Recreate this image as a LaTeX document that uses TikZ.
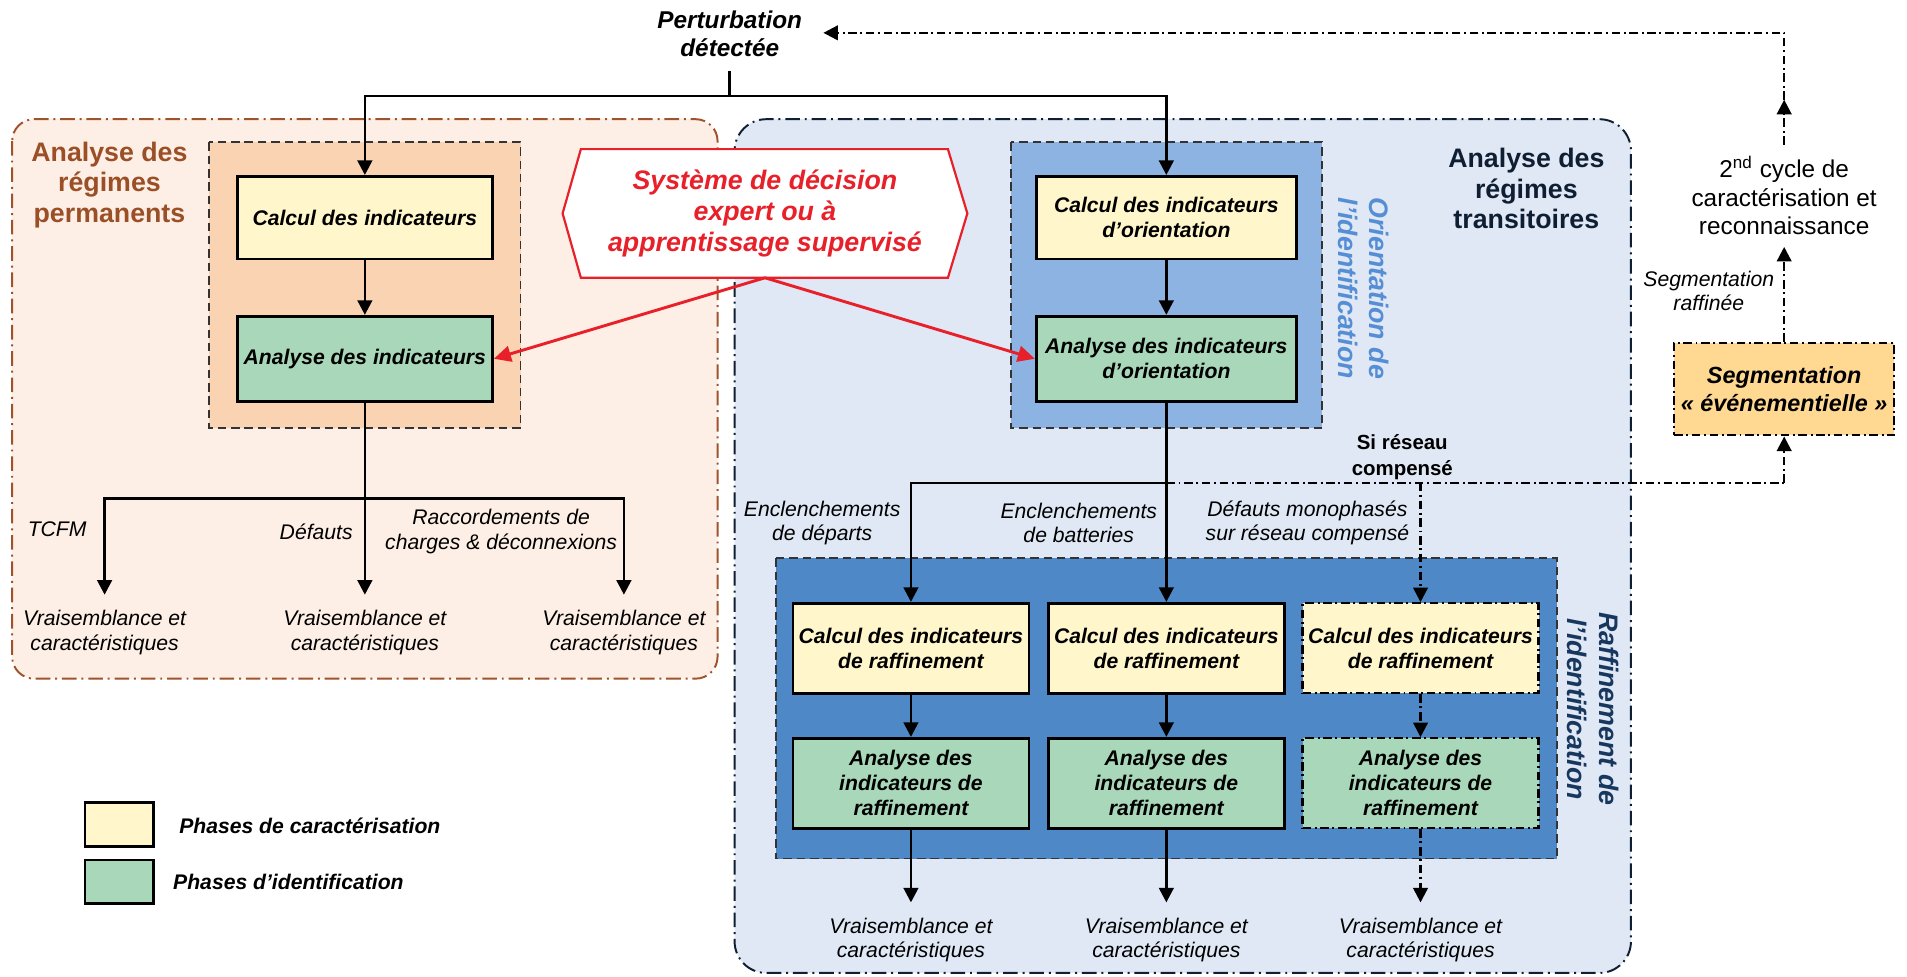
\documentclass[tikz,border=0pt]{standalone}
\usepackage{fontspec}
\setmainfont{Liberation Sans}
\usetikzlibrary{arrows.meta,calc}
\definecolor{cyel}{HTML}{FFF7CB}
\definecolor{cgrn}{HTML}{A8D8B9}
\definecolor{cpeachL}{HTML}{FDEFE5}
\definecolor{cpeach}{HTML}{F9D3B2}
\definecolor{cblueL}{HTML}{DFE8F4}
\definecolor{corient}{HTML}{8DB3E2}
\definecolor{craff}{HTML}{4F88C6}
\definecolor{cbrown}{HTML}{9A4F26}
\definecolor{cbrownB}{HTML}{A0522D}
\definecolor{cnavy}{HTML}{0F1E33}
\definecolor{craftext}{HTML}{17375E}
\definecolor{corientext}{HTML}{558ED5}
\definecolor{cred}{HTML}{E8202A}
\definecolor{cseg}{HTML}{FFD991}
\tikzset{
 lbl/.style={align=center, inner sep=0pt, font=\fontsize{8.7}{10}\selectfont\itshape},
 box/.style={draw=black, line width=1.1pt, align=center, inner sep=0pt, font=\fontsize{8.7}{10.2}\selectfont\bfseries\itshape},
 ybox/.style={box, fill=cyel},
 gbox/.style={box, fill=cgrn},
 ddbox/.style={line width=0.9pt, dash pattern=on 3.5pt off 1.5pt on 0.8pt off 1.5pt},
 arr/.style={line width=1.1pt, -{Triangle[length=6pt,width=6pt]}},
 ln/.style={line width=1.1pt},
 dd/.style={line width=1pt, dash pattern=on 3.5pt off 1.5pt on 0.8pt off 1.5pt},
 ddarr/.style={dd, -{Triangle[length=6pt,width=6pt]}},
 redarr/.style={draw=cred, line width=1.2pt, -{Triangle[length=7pt,width=6.5pt]}},
 innerd/.style={draw=black!80, line width=0.7pt, dash pattern=on 3.5pt off 2pt},
 region/.style={line width=0.8pt, dash pattern=on 6pt off 2pt on 0.8pt off 2pt},
 title/.style={align=center, inner sep=0pt, font=\fontsize{11}{12.6}\selectfont\bfseries},
 vtitle/.style={align=center, inner sep=0pt, rotate=-90, font=\fontsize{11}{13}\selectfont\bfseries\itshape},
}
\begin{document}
\begin{tikzpicture}[x=0.5pt,y=-0.5pt]
\useasboundingbox (0,0) rectangle (1568,803);
% regions
\filldraw[region, draw=cbrownB, fill=cpeachL, rounded corners=9pt] (10,98) rectangle (590,558);
\filldraw[region, draw=cnavy, fill=cblueL, rounded corners=13pt] (604,98) rectangle (1341,800);
\filldraw[innerd, fill=cpeach] (172,117) rectangle (428,352);
\filldraw[innerd, fill=corient] (831,117) rectangle (1087,352);
\filldraw[innerd, fill=craff] (638,459) rectangle (1280,706);
% titles
\node[title, text=cbrown] (titP) at (90,152) {Analyse des\\régimes\\permanents};
\node[title, text=cnavy] (titT) at (1255,155) {Analyse des\\régimes\\transitoires};
\node[vtitle, text=corientext] (vO) at (1121,237) {Orientation de\\l’identification};
\node[vtitle, text=craftext] (vR) at (1310,583) {Raffinement de\\l’identification};
% boxes
\node[ybox, minimum width=105pt, minimum height=34pt] (calcP) at (300,179) {Calcul des indicateurs};
\node[gbox, minimum width=105pt, minimum height=35pt] (anaP) at (300,295) {Analyse des indicateurs};
\node[ybox, minimum width=107pt, minimum height=34pt] (calcO) at (959,179) {Calcul des indicateurs\\d’orientation};
\node[gbox, minimum width=107pt, minimum height=35pt] (anaO) at (959,295) {Analyse des indicateurs\\d’orientation};
\node[ybox, minimum width=97pt, minimum height=37pt] (calcR1) at (749,533) {Calcul des indicateurs\\de raffinement};
\node[ybox, minimum width=97pt, minimum height=37pt] (calcR2) at (959,533) {Calcul des indicateurs\\de raffinement};
\node[ybox, ddbox, minimum width=97pt, minimum height=37pt] (calcR3) at (1168,533) {Calcul des indicateurs\\de raffinement};
\node[gbox, minimum width=97pt, minimum height=37pt] (anaR1) at (749,644) {Analyse des\\indicateurs de\\raffinement};
\node[gbox, minimum width=97pt, minimum height=37pt] (anaR2) at (959,644) {Analyse des\\indicateurs de\\raffinement};
\node[gbox, ddbox, minimum width=97pt, minimum height=37pt] (anaR3) at (1168,644) {Analyse des\\indicateurs de\\raffinement};
\node[box, ddbox, fill=cseg, minimum width=90.5pt, minimum height=38pt, font=\fontsize{9.6}{11.5}\selectfont\bfseries\itshape] (seg) at (1467,320) {Segmentation\\«~événementielle~»};
% perturbation
\node[align=center, inner sep=0pt, font=\fontsize{10}{11.5}\selectfont\bfseries\itshape] (pert) at (600,28) {Perturbation\\détectée};
\coordinate (pstub) at (600,58);
\coordinate (pj) at (600,79);
\draw[ln] (pstub) -- (pj);
\draw[arr] (pj) -| (calcP.north);
\draw[arr] (pj) -| (calcO.north);
\draw[arr] (calcP.south) -- (anaP.north);
\draw[arr] (calcO.south) -- (anaO.north);
% left outputs
\coordinate (lj) at (300,410);
\coordinate (la1) at (86,489);
\coordinate (la2) at (300,489);
\coordinate (la3) at (513,489);
\draw[ln] (anaP.south) -- (lj);
\draw[arr] (lj) -| (la1);
\draw[arr] (lj) -- (la2);
\draw[arr] (lj) -| (la3);
\node[lbl] (tcfm) at (47,435) {TCFM};
\node[lbl] (def) at (260,437) {Défauts};
\node[lbl] (racc) at (412,437) {Raccordements de\\charges \& déconnexions};
\node[lbl] (outP1) at (86,520) {Vraisemblance et\\caractéristiques};
\node[lbl] (outP2) at (300,520) {Vraisemblance et\\caractéristiques};
\node[lbl] (outP3) at (513,520) {Vraisemblance et\\caractéristiques};
% right trunk
\coordinate (rj) at (959,397);
\coordinate (bj) at (1168,397);
\coordinate (sj) at (1467,397);
\draw[ln] (anaO.south) -- (rj);
\draw[arr] (rj) -| (calcR1.north);
\draw[arr] (rj) -- (calcR2.north);
\draw[dd] (rj) -- (sj);
\draw[ddarr] (sj) -- (seg.south);
\draw[ddarr] (bj) -- (calcR3.north);
\draw[arr] (calcR1.south) -- (anaR1.north);
\draw[arr] (calcR2.south) -- (anaR2.north);
\draw[ddarr] (calcR3.south) -- (anaR3.north);
\coordinate (ra1) at (749,742);
\coordinate (ra2) at (959,742);
\coordinate (ra3) at (1168,742);
\draw[arr] (anaR1.south) -- (ra1);
\draw[arr] (anaR2.south) -- (ra2);
\draw[ddarr] (anaR3.south) -- (ra3);
\node[lbl] (outR1) at (749,773) {Vraisemblance et\\caractéristiques};
\node[lbl] (outR2) at (959,773) {Vraisemblance et\\caractéristiques};
\node[lbl] (outR3) at (1168,773) {Vraisemblance et\\caractéristiques};
\node[lbl] (e1) at (676,430) {Enclenchements\\de départs};
\node[lbl] (e2) at (887,430) {Enclenchements\\de batteries};
\node[lbl] (e3) at (1075,430) {Défauts monophasés\\sur réseau compensé};
\node[align=center, inner sep=0pt, font=\fontsize{8.4}{10.5}\selectfont\bfseries] (si) at (1153,376) {Si réseau\\compensé};
% second cycle
\node[align=center, inner sep=0pt, font=\fontsize{10}{11.75}\selectfont] (cyc) at (1467,161) {2\textsuperscript{nd} cycle de\\caractérisation et\\reconnaissance};
\node[lbl] (segr) at (1405,239) {Segmentation\\raffinée};
\coordinate (cyb) at (1467,203);
\coordinate (cyt) at (1467,119);
\coordinate (cym) at (1467,82);
\coordinate (cyc0) at (1467,27);
\coordinate (pin) at (677,27);
\draw[ddarr] (seg.north) -- (cyb);
\draw[ddarr] (cyt) -- (cym);
\draw[ddarr] (cym) -- (cyc0) -- (pin);
% decision hexagon
\node[align=center, inner sep=0pt, minimum width=166pt, minimum height=52.5pt] (hex) at (629,175.5) {};
\filldraw[draw=cred, fill=white, line width=0.9pt] ($(hex.north west)+(15,0)$) -- ($(hex.north east)+(-16,0)$) -- (hex.east) -- ($(hex.south east)+(-16,0)$) -- ($(hex.south west)+(15,0)$) -- (hex.west) -- cycle;
\node[align=center, inner sep=0pt, text=cred, font=\fontsize{11}{12.6}\selectfont\bfseries\itshape] (hext) at (hex.center) {Système de décision\\expert ou à\\apprentissage supervisé};
\draw[redarr] (hex.south) -- (anaP.east);
\draw[redarr] (hex.south) -- (anaO.west);
% legend
\node[ybox, minimum width=28pt, minimum height=18pt] (legY) at (98,678) {};
\node[gbox, minimum width=28pt, minimum height=18pt] (legG) at (98,725) {};
\node[anchor=west, inner sep=0pt, font=\fontsize{8.7}{10}\selectfont\bfseries\itshape] (legYt) at (147,679) {Phases de caractérisation};
\node[anchor=west, inner sep=0pt, font=\fontsize{8.7}{10}\selectfont\bfseries\itshape] (legGt) at (142,725) {Phases d’identification};
\end{tikzpicture}
\end{document}
